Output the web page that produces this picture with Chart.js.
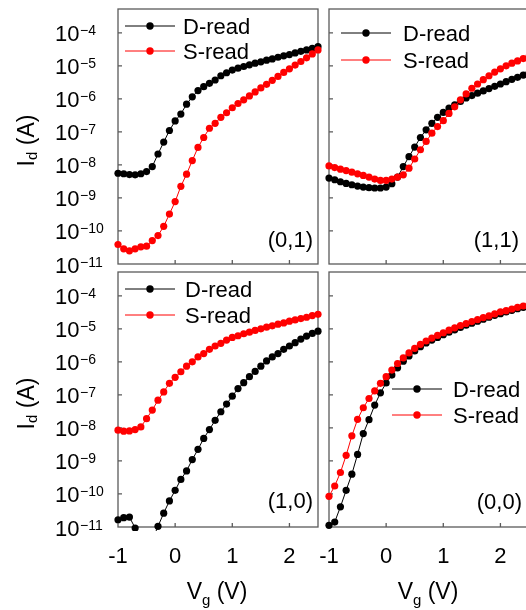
<!DOCTYPE html>
<html>
<head>
<meta charset="utf-8">
<title>Id-Vg read modes</title>
<script src="https://cdn.jsdelivr.net/npm/chart.js@4.4.0/dist/chart.umd.min.js"></script>
<style>
    html, body { margin:0; padding:0; background:#fff; overflow:hidden; }
    #wrap { position:relative; width:526px; height:610px; overflow:hidden; }
    #wrap canvas { position:absolute; left:0; top:0; }
</style>
</head>
<body>
<div id="wrap">
    <canvas id="cnv-01" width="540" height="610"></canvas>
    <canvas id="cnv-11" width="540" height="610"></canvas>
    <canvas id="cnv-10" width="540" height="610"></canvas>
    <canvas id="cnv-00" width="540" height="610"></canvas>
</div>
<script>
//--------------------------------------
// Data (Vg in V, Id in A)
//--------------------------------------
var vg = [-1,-0.9,-0.8,-0.7,-0.6,-0.5,-0.4,-0.3,-0.2,-0.1,0,0.1,0.2,0.3,0.4,0.5,0.6,0.7,0.8,0.9,
          1,1.1,1.2,1.3,1.4,1.5,1.6,1.7,1.8,1.9,2,2.1,2.2,2.3,2.4,2.5];

// state (0,1)
var d01 = [5.6e-9,5.4e-9,5.1e-9,5.0e-9,5.4e-9,6.3e-9,8.9e-9,2.14e-8,4.9e-8,1.1e-7,
           2.14e-7,3.47e-7,6.9e-7,1.15e-6,1.78e-6,2.34e-6,2.95e-6,3.72e-6,5.0e-6,6.17e-6,7.41e-6,
           8.5e-6,9.55e-6,1.07e-5,1.2e-5,1.32e-5,1.48e-5,1.62e-5,1.82e-5,2.0e-5,2.19e-5,2.45e-5,2.75e-5,3.02e-5,3.39e-5,3.8e-5];
var s01 = [3.9e-11,2.88e-11,2.51e-11,2.88e-11,3.31e-11,3.47e-11,5.13e-11,7.24e-11,1.38e-10,3.24e-10,
           7.76e-10,2.24e-9,5.25e-9,1.35e-8,3.39e-8,6.76e-8,1.29e-7,1.82e-7,2.75e-7,3.8e-7,5.37e-7,
           7.24e-7,9.33e-7,1.23e-6,1.62e-6,2.14e-6,2.75e-6,3.63e-6,4.79e-6,6.31e-6,8.13e-6,1.05e-5,1.35e-5,1.74e-5,2.29e-5,3.02e-5];

// state (1,1)
var d11 = [3.98e-9,3.55e-9,3.09e-9,2.75e-9,2.51e-9,2.29e-9,2.14e-9,2.04e-9,2.0e-9,2.0e-9,
           2.14e-9,2.69e-9,4.27e-9,8.9e-9,1.78e-8,3.47e-8,6.76e-8,1.15e-7,1.82e-7,2.75e-7,3.89e-7,
           5.25e-7,6.61e-7,8.3e-7,1.07e-6,1.26e-6,1.48e-6,1.74e-6,2.04e-6,2.4e-6,2.82e-6,3.31e-6,3.89e-6,4.47e-6,5.25e-6,6.03e-6];
var s11 = [9.33e-9,8.32e-9,7.41e-9,6.76e-9,6.03e-9,5.37e-9,4.79e-9,4.27e-9,3.72e-9,3.39e-9,
           3.39e-9,3.72e-9,4.27e-9,5.01e-9,7.94e-9,1.51e-8,2.88e-8,5.13e-8,9.12e-8,1.45e-7,2.19e-7,
           3.63e-7,5.75e-7,9.33e-7,1.41e-6,2.09e-6,2.82e-6,3.8e-6,5.01e-6,6.46e-6,8.13e-6,1.0e-5,1.2e-5,1.41e-5,1.66e-5,1.91e-5];

// state (1,0)
var d10 = [1.66e-11,1.91e-11,2.0e-11,9.33e-12,4e-12,3e-12,4e-12,1.05e-11,2.63e-11,6.17e-11,
           1.29e-10,2.75e-10,5.0e-10,1.1e-9,2.24e-9,4.79e-9,8.91e-9,1.7e-8,3.09e-8,5.25e-8,9.12e-8,
           1.55e-7,2.34e-7,3.55e-7,5.13e-7,7.41e-7,1.07e-6,1.41e-6,1.78e-6,2.4e-6,3.02e-6,3.8e-6,4.9e-6,6.03e-6,7.24e-6,8.51e-6];
var s10 = [8.51e-9,7.94e-9,8.13e-9,8.91e-9,1.07e-8,1.91e-8,3.47e-8,6.92e-8,1.23e-7,2.24e-7,
           3.39e-7,5.01e-7,7.41e-7,1.0e-6,1.41e-6,1.78e-6,2.4e-6,3.02e-6,3.63e-6,4.57e-6,5.5e-6,
           6.17e-6,7.08e-6,7.94e-6,8.91e-6,1.0e-5,1.12e-5,1.23e-5,1.38e-5,1.51e-5,1.7e-5,1.86e-5,2.04e-5,2.24e-5,2.51e-5,2.75e-5];

// state (0,0)
var d00 = [1.12e-11,1.41e-11,4.07e-11,1.29e-10,3.98e-10,1.58e-9,6.76e-9,1.78e-8,4.9e-8,1.15e-7,
           2.29e-7,3.98e-7,6.61e-7,1.05e-6,1.51e-6,2.14e-6,2.88e-6,3.72e-6,4.57e-6,5.5e-6,6.61e-6,
           7.94e-6,9.33e-6,1.1e-5,1.29e-5,1.48e-5,1.7e-5,1.95e-5,2.24e-5,2.57e-5,2.88e-5,3.24e-5,3.63e-5,4.07e-5,4.47e-5,4.9e-5];
var s00 = [8.51e-11,1.74e-10,4.47e-10,1.48e-9,5.75e-9,1.82e-8,4.07e-8,7.76e-8,1.32e-7,2.24e-7,
           3.55e-7,5.62e-7,8.91e-7,1.32e-6,1.86e-6,2.57e-6,3.39e-6,4.27e-6,5.25e-6,6.31e-6,7.59e-6,
           9.12e-6,1.07e-5,1.26e-5,1.45e-5,1.66e-5,1.91e-5,2.19e-5,2.45e-5,2.82e-5,3.24e-5,3.55e-5,3.98e-5,4.47e-5,4.9e-5,5.37e-5];

// axes
var xMin = -1, xMax = 2.5;
var xTicks = [-1, 0, 1, 2];
var yMin = 1e-11, yMax = 5.25e-4;
var yExp = [-4, -5, -6, -7, -8, -9, -10, -11];
var seriesNames = ['D-read', 'S-read'];

(function(win){

    var FONT = '"Liberation Sans", Arial, Helvetica, sans-serif';
    var FRAME = '#5a5a5a';
    var W = 540, H = 610;

    var panels = [
        {cnv:'cnv-01', d:d01, s:s01, area:[118, 9, 318, 264], yLab:true,  xLab:false, tag:'(0,1)', tagX:313, tagY:247,
            leg:{x0:125, x1:175, y:[26, 51], tx:183}},
        {cnv:'cnv-11', d:d11, s:s11, area:[329, 9, 529, 264], yLab:false, xLab:false, tag:'(1,1)', tagX:519, tagY:247,
            leg:{x0:341, x1:391, y:[33, 60], tx:403}},
        {cnv:'cnv-10', d:d10, s:s10, area:[118, 272, 318, 527], yLab:true,  xLab:true,  tag:'(1,0)', tagX:313, tagY:508,
            leg:{x0:125, x1:175, y:[289, 315], tx:185}},
        {cnv:'cnv-00', d:d00, s:s00, area:[329, 272, 529, 527], yLab:false, xLab:true,  tag:'(0,0)', tagX:522, tagY:509,
            leg:{x0:392, x1:442, y:[389, 415], tx:453}}
    ];

    var init = function(){
        for(var i = 0; i < panels.length; i++){
            setPanel(panels[i]);
        }
    };

    //--------------------------------------
    // Decoration plugin (frame, ticks, labels, legend)
    //--------------------------------------
    var decor = {
        id: 'decor',
        beforeDatasetsDraw: function(chart, args, p){
            var ctx = chart.ctx, a = chart.chartArea;
            var xs = chart.scales.x, ys = chart.scales.y;
            ctx.save();
            ctx.strokeStyle = FRAME;
            ctx.lineWidth = 1.3;
            ctx.strokeRect(a.left, a.top, a.right - a.left, a.bottom - a.top);
            ctx.beginPath();
            yExp.forEach(function(e){
                var py = ys.getPixelForValue(Math.pow(10, e));
                if(py > a.top + 2 && py < a.bottom - 2){
                    ctx.moveTo(a.left, py);
                    ctx.lineTo(a.left + 4, py);
                }
            });
            xTicks.forEach(function(v){
                var px = xs.getPixelForValue(v);
                if(px > a.left + 2 && px < a.right - 2){
                    ctx.moveTo(px, a.bottom);
                    ctx.lineTo(px, a.bottom - 4);
                }
            });
            ctx.stroke();
            ctx.restore();
        },
        afterDraw: function(chart, args, p){
            var ctx = chart.ctx, a = chart.chartArea;
            var xs = chart.scales.x, ys = chart.scales.y;
            ctx.save();
            ctx.fillStyle = '#000';
            ctx.textBaseline = 'alphabetic';

            //y tick labels 10^-n
            if(p.yLab){
                yExp.forEach(function(e){
                    var py = ys.getPixelForValue(Math.pow(10, e));
                    ctx.textAlign = 'left';
                    ctx.font = '22px ' + FONT;
                    ctx.fillText('10', 55, py + 8.5);
                    var w = ctx.measureText('10').width;
                    ctx.font = '14px ' + FONT;
                    ctx.fillText('\u2212' + Math.abs(e), 55 + w + 0.5, py + 2.5);
                });
                drawSubText(ctx, 'I', 'd', ' (A)', 33.5, (a.top + a.bottom) / 2 + 4, true, 3.5);
            }

            //x tick labels
            if(p.xLab){
                ctx.font = '22px ' + FONT;
                ctx.textAlign = 'center';
                xTicks.forEach(function(v){
                    ctx.fillText(String(v), xs.getPixelForValue(v), 563);
                });
                drawSubText(ctx, 'V', 'g', ' (V)', (a.left + a.right) / 2 - 1, 598.5, false, 6.5);
            }

            //panel state tag
            ctx.font = '22px ' + FONT;
            ctx.textAlign = 'right';
            ctx.fillText(p.tag, p.tagX, p.tagY);

            //legend
            var ds = chart.data.datasets;
            for(var i = 0; i < ds.length; i++){
                var y = p.leg.y[i];
                ctx.strokeStyle = ds[i].borderColor;
                ctx.lineWidth = 1;
                ctx.beginPath();
                ctx.moveTo(p.leg.x0, y);
                ctx.lineTo(p.leg.x1, y);
                ctx.stroke();
                ctx.fillStyle = ds[i].borderColor;
                ctx.beginPath();
                ctx.arc((p.leg.x0 + p.leg.x1) / 2, y, 3.7, 0, Math.PI * 2);
                ctx.fill();
                ctx.fillStyle = '#000';
                ctx.font = '22px ' + FONT;
                ctx.textAlign = 'left';
                ctx.fillText(ds[i].label, p.leg.tx, y + 7.5);
            }
            ctx.restore();
        }
    };

    //main text + subscript + rest, centred on (x, y); rotated for the y title
    var drawSubText = function(ctx, main, sub, rest, x, y, rotate, subDy){
        ctx.save();
        ctx.translate(x, y);
        if(rotate){ ctx.rotate(-Math.PI / 2); }
        ctx.textAlign = 'left';
        ctx.font = '23px ' + FONT;
        var w1 = ctx.measureText(main).width;
        var w3 = ctx.measureText(rest).width;
        ctx.font = '15px ' + FONT;
        var w2 = ctx.measureText(sub).width;
        var x0 = -(w1 + w2 + w3) / 2;
        ctx.font = '23px ' + FONT;
        ctx.fillText(main, x0, 0);
        ctx.fillText(rest, x0 + w1 + w2, 0);
        ctx.font = '15px ' + FONT;
        ctx.fillText(sub, x0 + w1, subDy);
        ctx.restore();
    };

    //--------------------------------------
    // Charts
    //--------------------------------------
    var toPoints = function(arr){
        return vg.map(function(v, i){ return {x: v, y: arr[i]}; });
    };

    var makeSet = function(label, arr, color, order){
        return {
            label: label,
            data: toPoints(arr),
            borderColor: color,
            backgroundColor: color,
            borderWidth: 1,
            pointRadius: 3.6,
            pointBorderWidth: 0,
            pointBackgroundColor: color,
            tension: 0,
            order: order,
            clip: {left: 6, top: 6, right: 6, bottom: 4}
        };
    };

    var setPanel = function(p){
        var a = p.area;
        var cnv = document.getElementById(p.cnv);
        new Chart(cnv, {
            type: 'line',
            data: {
                datasets: [
                    makeSet(seriesNames[0], p.d, '#000000', 2),
                    makeSet(seriesNames[1], p.s, '#ff0000', 1)
                ]
            },
            options: {
                responsive: false,
                animation: false,
                events: [],
                layout: {padding: {left: a[0], top: a[1], right: W - a[2], bottom: H - a[3]}},
                scales: {
                    x: {type: 'linear', min: xMin, max: xMax, display: false},
                    y: {type: 'logarithmic', min: yMin, max: yMax, display: false}
                },
                plugins: {
                    legend: {display: false},
                    tooltip: {enabled: false},
                    decor: p
                }
            },
            plugins: [decor]
        });
    };

    init();

})(window);
</script>
</body>
</html>
